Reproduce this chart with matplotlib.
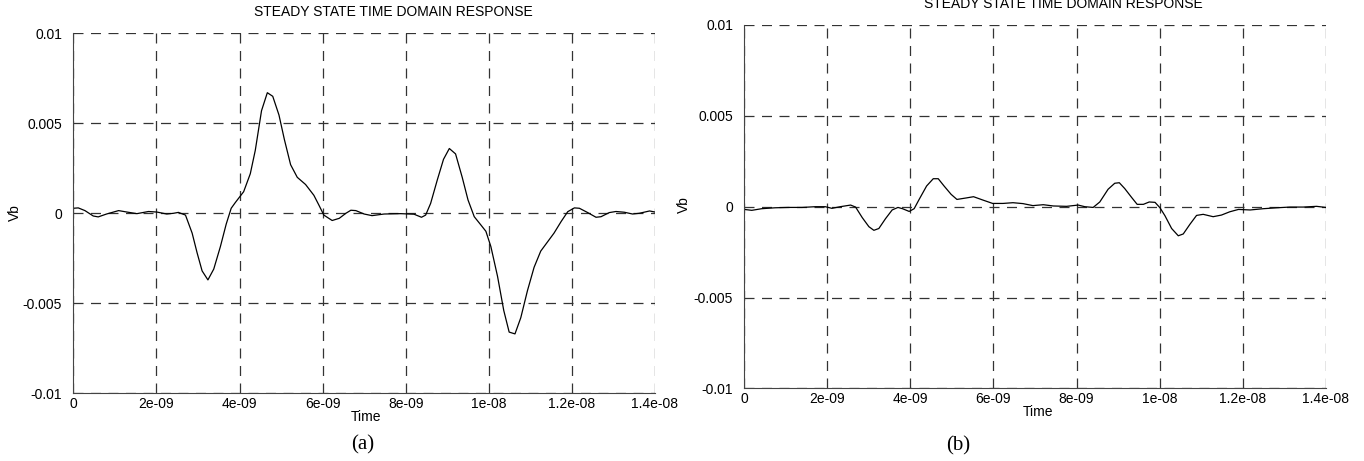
import matplotlib.pyplot as plt

plt.rcParams['font.family'] = ['Liberation Sans', 'DejaVu Sans']

# Time axis in ns, Vb in volts
t_a = [0, 0.12, 0.28, 0.48, 0.6, 0.8, 1.09, 1.29, 1.53, 1.81,
       2.01, 2.25, 2.41, 2.53, 2.7, 2.86, 2.98, 3.1, 3.24, 3.38,
       3.54, 3.68, 3.8, 3.9, 4.1, 4.26, 4.38, 4.53, 4.67, 4.8,
       4.95, 5.08, 5.23, 5.39, 5.59, 5.79, 5.91, 6.03, 6.23, 6.4,
       6.56, 6.68, 6.8, 7.0, 7.19, 7.48, 7.88, 8.2, 8.38, 8.48,
       8.6, 8.76, 8.91, 9.05, 9.2, 9.36, 9.5, 9.65, 9.81, 9.93,
       10.05, 10.21, 10.36, 10.49, 10.63, 10.77, 10.93, 11.09, 11.25, 11.41,
       11.57, 11.74, 11.9, 12.06, 12.18, 12.38, 12.58, 12.7, 12.9, 13.06,
       13.26, 13.46, 13.62, 13.87, 14.0]
vb_a = [0.00028, 0.0003, 0.00015, -0.00015, -0.0002, -0.00004, 0.00015, 0.00007, -0.00002, 0.0001,
        0.00007, -0.00004, 0.0, 0.00005, -0.0001, -0.0011, -0.0022, -0.0032, -0.0037, -0.0031,
        -0.00185, -0.0006, 0.00028, 0.0006, 0.0012, 0.0022, 0.0035, 0.0057, 0.0067, 0.0065,
        0.00546, 0.0041, 0.0027, 0.002, 0.0016, 0.001, 0.00046, -0.0001, -0.0004, -0.00028,
        0.0, 0.00017, 0.00015, -0.00004, -0.00013, -0.00004, -0.00002, -0.00005, -0.00022, -0.0001,
        0.00055, 0.00185, 0.003, 0.0036, 0.0033, 0.002, 0.00074, -0.00019, -0.00065, -0.001,
        -0.00185, -0.0035, -0.0054, -0.0066, -0.0067, -0.0058, -0.0043, -0.003, -0.0021, -0.0016,
        -0.0011, -0.00046, 0.00009, 0.0003, 0.00028, 0.00004, -0.00022, -0.00019, 0.00004, 0.0001,
        0.00006, -0.00004, 0.0, 0.00013, 0.00007]

t_b = [0, 0.18, 0.42, 0.74, 1.06, 1.39, 1.71, 1.95, 2.11, 2.31,
       2.56, 2.68, 2.84, 3.0, 3.12, 3.24, 3.4, 3.56, 3.7, 3.81,
       3.97, 4.09, 4.21, 4.39, 4.55, 4.67, 4.81, 4.98, 5.12, 5.34,
       5.52, 5.74, 5.98, 6.23, 6.47, 6.71, 6.95, 7.2, 7.44, 7.76,
       8.04, 8.2, 8.4, 8.56, 8.76, 8.92, 9.03, 9.16, 9.33, 9.46,
       9.61, 9.75, 9.89, 10.01, 10.13, 10.29, 10.45, 10.57, 10.73, 10.89,
       11.05, 11.29, 11.49, 11.69, 11.9, 12.18, 12.5, 12.82, 13.14, 13.46,
       13.78, 14.0]
vb_b = [-0.00015, -0.0002, -0.00011, -0.00006, -0.00004, -0.00004, 0.0, 0.0, -0.00009, 0.0,
        0.00009, -0.00002, -0.0006, -0.0011, -0.0013, -0.0012, -0.00066, -0.00018, -0.00004, -0.00011,
        -0.00026, -0.00011, 0.0004, 0.00114, 0.00154, 0.00154, 0.00114, 0.00068, 0.0004, 0.00048,
        0.00055, 0.00037, 0.00018, 0.00018, 0.00022, 0.00017, 0.00006, 0.00011, 0.00004, 0.00002,
        0.00009, 0.0, -0.00004, 0.00026, 0.00096, 0.00129, 0.00132, 0.001, 0.0005, 0.00013,
        0.00013, 0.00026, 0.00024, -0.00006, -0.0005, -0.0012, -0.0016, -0.0015, -0.00097, -0.00048,
        -0.00042, -0.00055, -0.00046, -0.00028, -0.00015, -0.00018, -0.00011, -0.00006, -0.00002, -0.00002,
        0.00002, -0.00004]

xticks = [0, 2e-9, 4e-9, 6e-9, 8e-9, 1e-8, 1.2e-8, 1.4e-8]
xtick_labels = ['0', '2e-09', '4e-09', '6e-09', '8e-09', '1e-08', '1.2e-08', '1.4e-08']
yticks = [-0.01, -0.005, 0, 0.005, 0.01]
ytick_labels = ['-0.01', '-0.005', '0', '0.005', '0.01']

title = 'STEADY STATE TIME DOMAIN RESPONSE'

W, H = 1364, 461
fig = plt.figure(figsize=(W / 100, H / 100), dpi=100)

# axes boxes in pixels: left, top, right, bottom
boxes = [(73.3, 33.3, 655.0, 393.3), (744.3, 25.0, 1325.7, 388.4)]
panels = [(t_a, vb_a), (t_b, vb_b)]
# text positions in pixels
title_pos = [(393, 12), (1063, 4)]
vb_pos = [(15, 213), (684, 205)]
time_pos = [(366, 417), (1038, 412)]
tag_pos = [(363, 445), (958, 446)]
tags = ['(a)', '(b)']


def px(x, y):
    return x / W, 1 - y / H


for i in range(2):
    l, t, r, b = boxes[i]
    ax = fig.add_axes([l / W, 1 - b / H, (r - l) / W, (b - t) / H])
    tt, vv = panels[i]
    ax.plot([x * 1e-9 for x in tt], vv, color='black', lw=0.9)
    ax.set_xlim(0, 1.4e-8)
    ax.set_ylim(-0.01, 0.01)
    ax.set_xticks(xticks)
    ax.set_xticklabels(xtick_labels)
    ax.set_yticks(yticks)
    ax.set_yticklabels(ytick_labels)
    ax.tick_params(axis='both', length=0, labelsize=10)
    ax.tick_params(axis='x', pad=2.5)
    ax.tick_params(axis='y', pad=8)
    ax.grid(True, color='#333333', linestyle=(0, (8, 6)), lw=0.9)
    ax.spines['top'].set_visible(False)
    ax.spines['right'].set_visible(False)
    ax.spines['left'].set_color('#444444')
    ax.spines['bottom'].set_color('#444444')

    fig.text(*px(*title_pos[i]), title, ha='center', va='center', fontsize=10)
    fig.text(*px(*vb_pos[i]), 'Vb', ha='center', va='center', rotation=90, fontsize=10)
    fig.text(*px(*time_pos[i]), 'Time', ha='center', va='center', fontsize=10)
    fig.text(*px(*tag_pos[i]), tags[i], ha='center', va='center', fontsize=15,
             family='Liberation Serif')

plt.savefig('out.png', dpi=100)
